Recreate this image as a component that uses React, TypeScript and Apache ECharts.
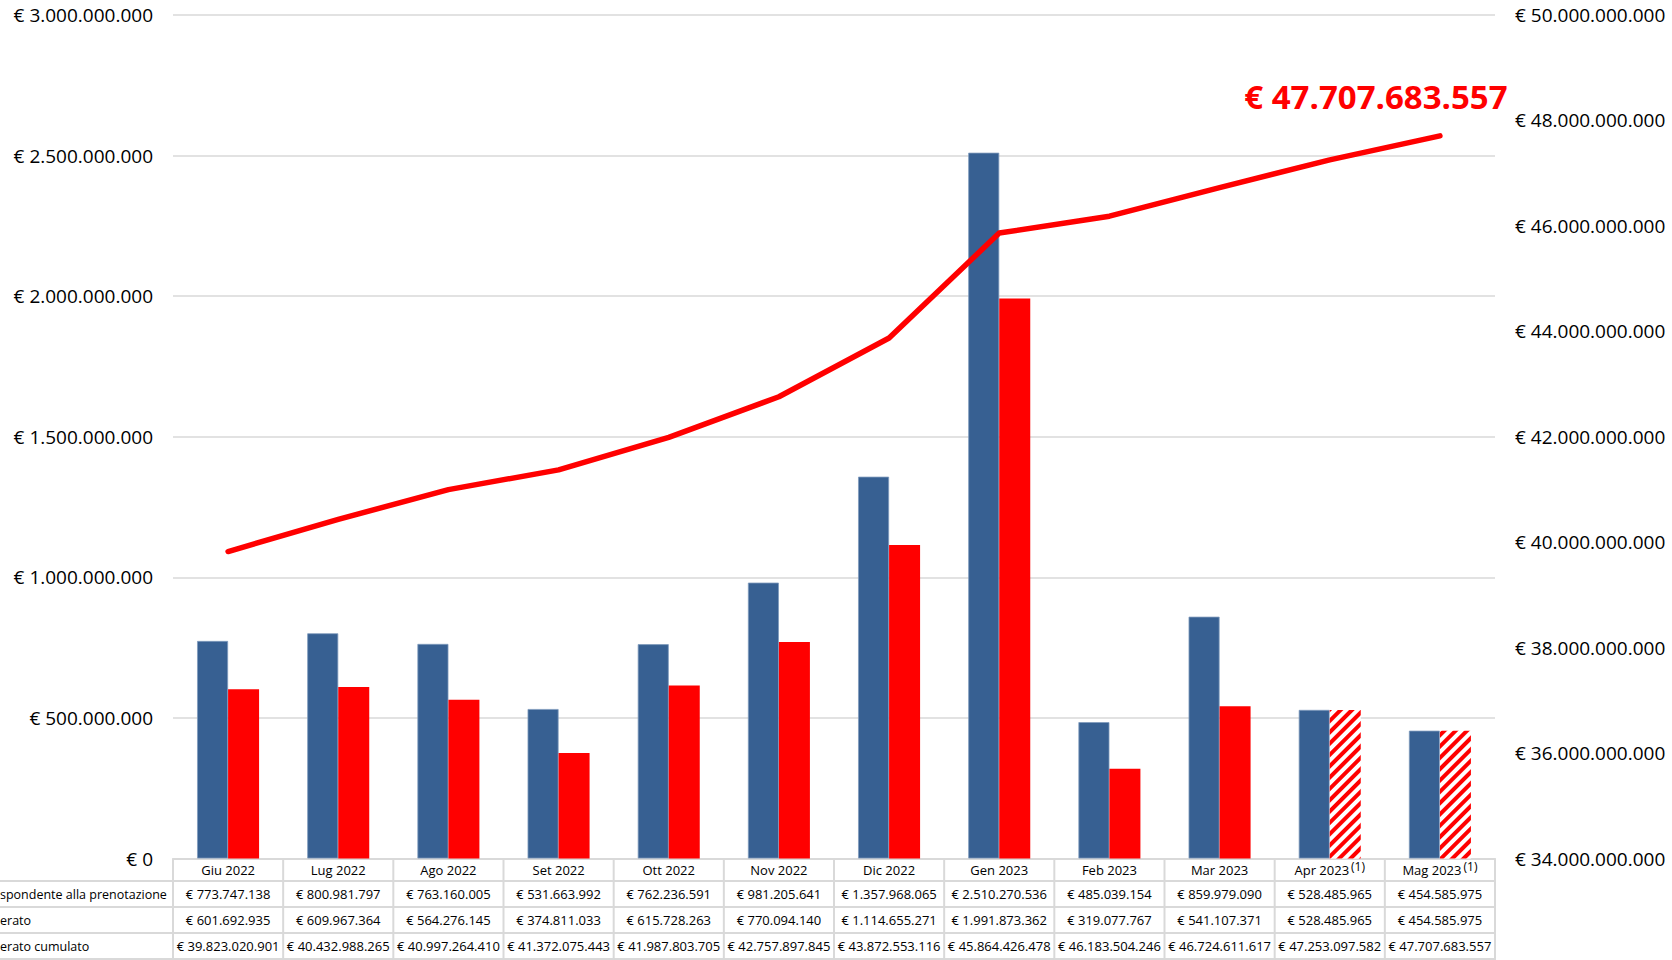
import React, { useEffect, useRef } from "react";
import * as echarts from "echarts";

const months = ["Giu 2022", "Lug 2022", "Ago 2022", "Set 2022", "Ott 2022", "Nov 2022", "Dic 2022", "Gen 2023", "Feb 2023", "Mar 2023", "Apr 2023", "Mag 2023"];
const footnotes = ["", "", "", "", "", "", "", "", "", "", "(1)", "(1)"];
const prenotazione = [773747138, 800981797, 763160005, 531663992, 762236591, 981205641, 1357968065, 2510270536, 485039154, 859979090, 528485965, 454585975];
const erato = [601692935, 609967364, 564276145, 374811033, 615728263, 770094140, 1114655271, 1991873362, 319077767, 541107371, 528485965, 454585975];
const cumulato = [39823020901, 40432988265, 40997264410, 41372075443, 41987803705, 42757897845, 43872553116, 45864426478, 46183504246, 46724611617, 47253097582, 47707683557];
const hatched = [false, false, false, false, false, false, false, false, false, false, true, true];
const rowLabels = ["spondente alla prenotazione", "erato", "erato cumulato"];

const FONT = "'Open Sans', sans-serif";
const W = 1672;
const H = 960;
const GL = 173;
const GR = 1495;
const GT = 15;
const GB = 858.5;
const GRID_COLOR = "#d9d9d9";

const eur = (n: number) => "€ " + String(Math.round(n)).replace(/\B(?=(\d{3})+(?!\d))/g, ".");

export default function App() {
  const ref = useRef<HTMLDivElement>(null);
  useEffect(() => {
    if (!ref.current) return;
    const chart = echarts.init(ref.current, null, { renderer: "svg" });
    const colW = (GR - GL) / months.length;
    const graphics: any[] = [];
    [881, 907, 933].forEach((y) => {
      graphics.push({ type: "line", shape: { x1: 0, y1: y, x2: GR, y2: y }, style: { stroke: GRID_COLOR, lineWidth: 2 }, silent: true });
    });
    graphics.push({ type: "line", shape: { x1: 0, y1: 959, x2: GR, y2: 959 }, style: { stroke: GRID_COLOR, lineWidth: 2 }, silent: true });
    for (let k = 0; k <= months.length; k++) {
      const x = GL + k * colW;
      graphics.push({ type: "line", shape: { x1: x, y1: GB, x2: x, y2: H }, style: { stroke: GRID_COLOR, lineWidth: 2 }, silent: true });
    }
    const rowY = [894, 920, 946];
    rowLabels.forEach((t, i) => {
      graphics.push({
        type: "text",
        x: 0,
        y: rowY[i],
        style: { text: t, fill: "#000", font: `12.5px ${FONT}`, textAlign: "left", textVerticalAlign: "middle" },
        silent: true,
      });
    });

    chart.setOption({
      animation: false,
      backgroundColor: "#fff",
      textStyle: { fontFamily: FONT },
      grid: { left: GL, right: W - GR, top: GT, bottom: H - GB, containLabel: false },
      xAxis: {
        type: "category",
        data: months,
        axisLine: { show: true, lineStyle: { color: GRID_COLOR, width: 2 } },
        axisTick: { show: false },
        axisLabel: {
          interval: 0,
          margin: 0,
          color: "#000",
          fontFamily: FONT,
          formatter: (value: string, idx: number) => {
            const sup = footnotes[idx] ? `{s|${footnotes[idx]}}` : "";
            return `{h|${value}}${sup}\n{v|${eur(prenotazione[idx])}}\n{v|${eur(erato[idx])}}\n{v|${eur(cumulato[idx])}}`;
          },
          rich: {
            h: { fontSize: 13, lineHeight: 22, color: "#000", fontFamily: FONT },
            s: { fontSize: 12, lineHeight: 22, color: "#000", fontFamily: FONT, padding: [0, 0, 7, 2] },
            v: { fontSize: 13, lineHeight: 26, color: "#000", fontFamily: FONT },
          },
        },
      },
      yAxis: [
        {
          type: "value",
          min: 0,
          max: 3000000000,
          interval: 500000000,
          axisLine: { show: false },
          axisTick: { show: false },
          splitLine: { show: true, lineStyle: { color: GRID_COLOR, width: 1.5 } },
          axisLabel: { margin: 20, color: "#000", fontSize: 19, fontFamily: FONT, formatter: (v: number) => eur(v) },
        },
        {
          type: "value",
          min: 34000000000,
          max: 50000000000,
          interval: 2000000000,
          axisLine: { show: false },
          axisTick: { show: false },
          splitLine: { show: false },
          axisLabel: { margin: 20, color: "#000", fontSize: 19, fontFamily: FONT, formatter: (v: number) => eur(v) },
        },
      ],
      series: [
        {
          type: "bar",
          name: "prenotazione",
          data: prenotazione,
          barWidth: 31,
          barGap: "0%",
          itemStyle: { color: "#376092", borderColor: "#7f9bbd", borderWidth: 0.8 },
        },
        {
          type: "bar",
          name: "erato",
          data: erato.map((v, i) =>
            hatched[i]
              ? {
                  value: v,
                  itemStyle: {
                    color: "#ffffff",
                    decal: {
                      symbol: "rect",
                      color: "#ff0000",
                      dashArrayX: [1, 0],
                      dashArrayY: [4, 4],
                      rotation: -Math.PI / 4,
                      symbolSize: 1,
                    },
                  },
                }
              : v
          ),
          barWidth: 31,
          barGap: "0%",
          itemStyle: { color: "#ff0000" },
        },
        {
          type: "line",
          name: "cumulato",
          yAxisIndex: 1,
          data: cumulato.map((v, i) =>
            i === cumulato.length - 1
              ? {
                  value: v,
                  label: {
                    show: true,
                    position: "top",
                    distance: 5,
                    offset: [-64, -18],
                    formatter: (p: any) => eur(p.value),
                    color: "#ff0000",
                    fontSize: 33,
                    fontWeight: "bold",
                    fontFamily: FONT,
                  },
                }
              : v
          ),
          symbol: "circle",
          symbolSize: 0,
          showSymbol: true,
          label: { show: false },
          lineStyle: { color: "#ff0000", width: 5.5, cap: "round", join: "round" },
          itemStyle: { color: "#ff0000" },
          z: 5,
        },
      ],
      graphic: graphics,
    });
    return () => chart.dispose();
  }, []);
  return <div ref={ref} style={{ position: "fixed", left: 0, top: 0, width: W, height: H }} />;
}
